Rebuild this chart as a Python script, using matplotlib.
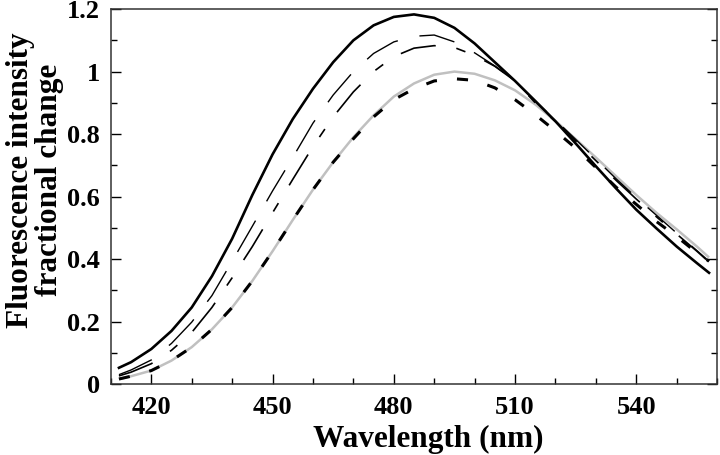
import matplotlib
matplotlib.use("Agg")
import matplotlib.pyplot as plt
from matplotlib.ticker import MultipleLocator

wl = [412, 415, 420, 425, 430, 435, 440, 445, 450, 455, 460, 465, 470, 475,
      480, 485, 490, 495, 500, 505, 510, 515, 520, 525, 530, 535, 540, 545,
      550, 555, 558]

solid = [0.052, 0.070, 0.112, 0.170, 0.245, 0.345, 0.465, 0.605, 0.735, 0.848,
         0.945, 1.030, 1.100, 1.148, 1.175, 1.183, 1.172, 1.140, 1.090, 1.030,
         0.970, 0.906, 0.841, 0.770, 0.697, 0.626, 0.558, 0.498, 0.440, 0.387,
         0.356]

long_dash = [0.030, 0.045, 0.077, 0.130, 0.198, 0.283, 0.393, 0.505, 0.618, 0.725,
             0.835, 0.925, 1.000, 1.058, 1.095, 1.113, 1.117, 1.095, 1.060, 1.018,
             0.970, 0.905, 0.845, 0.783, 0.720, 0.657, 0.597, 0.540, 0.483, 0.427,
             0.393]

dash_dot = [0.026, 0.038, 0.065, 0.108, 0.165, 0.245, 0.340, 0.440, 0.548, 0.655,
            0.760, 0.855, 0.935, 1.000, 1.048, 1.075, 1.083, 1.077, 1.052, 1.017,
            0.970, 0.900, 0.840, 0.778, 0.715, 0.652, 0.592, 0.535, 0.480, 0.425,
            0.390]

gray = [0.016, 0.025, 0.043, 0.075, 0.118, 0.175, 0.245, 0.330, 0.425, 0.525,
        0.622, 0.710, 0.790, 0.860, 0.920, 0.962, 0.990, 1.000, 0.993, 0.972,
        0.940, 0.895, 0.842, 0.784, 0.725, 0.665, 0.605, 0.548, 0.495, 0.440,
        0.405]

short_dash = [0.016, 0.025, 0.043, 0.075, 0.118, 0.175, 0.245, 0.330, 0.425, 0.525,
              0.622, 0.710, 0.785, 0.855, 0.910, 0.945, 0.970, 0.977, 0.972, 0.948,
              0.910, 0.862, 0.810, 0.755, 0.693, 0.630, 0.575, 0.520, 0.472, 0.420,
              0.393]

x_major = [420, 450, 480, 510, 540]
y_major = [0, 0.2, 0.4, 0.6, 0.8, 1.0, 1.2]
y_labels = ["0", "0.2", "0.4", "0.6", "0.8", "1", "1.2"]

plt.rcParams['font.family'] = ['Liberation Serif', 'DejaVu Serif']
plt.rcParams['font.weight'] = 'bold'
plt.rcParams['lines.scale_dashes'] = False

fig = plt.figure(figsize=(7.2, 4.55), dpi=100)
ax = fig.add_axes([0.154, 0.156, 0.842, 0.824])

ax.plot(wl, gray, color='#c0c0c0', lw=1.8, solid_capstyle='butt')
ax.plot(wl, short_dash, color='black', lw=2.2, dashes=(8, 14.5))
ax.plot(wl, dash_dot, color='black', lw=1.2, dashes=(26, 15, 7, 15))
ax.plot(wl, long_dash, color='black', lw=1.0, dashes=(26, 16))
ax.plot(wl, solid, color='black', lw=1.9)

ax.set_xlim(410, 560)
ax.set_ylim(0, 1.2)
ax.set_xticks(x_major)
ax.xaxis.set_minor_locator(MultipleLocator(10))
ax.set_yticks(y_major)
ax.set_yticklabels(y_labels)
ax.yaxis.set_minor_locator(MultipleLocator(0.1))

ax.tick_params(axis='both', which='both', direction='in', labelsize=19, width=1.0)
ax.tick_params(axis='y', which='both', right=True)
ax.tick_params(axis='both', which='major', length=7)
ax.tick_params(axis='both', which='minor', length=4.5)
ax.tick_params(axis='x', which='major', pad=8.5)
ax.tick_params(axis='y', which='major', pad=8)
for lab in ax.get_xticklabels() + ax.get_yticklabels():
    lab.set_fontweight('bold')

for sp in ax.spines.values():
    sp.set_linewidth(1.1)
    sp.set_color('#333333')

ax.set_xlabel("Wavelength (nm)", fontsize=22.5, fontweight='bold', va='center')
ax.xaxis.set_label_coords(0.523, -0.148)
ax.set_ylabel("Fluorescence intensity\nfractional change", fontsize=22.5,
              fontweight='bold', linespacing=1.0, va='center')
ax.yaxis.set_label_coords(-0.125, 0.544)

fig.savefig("out.png", dpi=100)
